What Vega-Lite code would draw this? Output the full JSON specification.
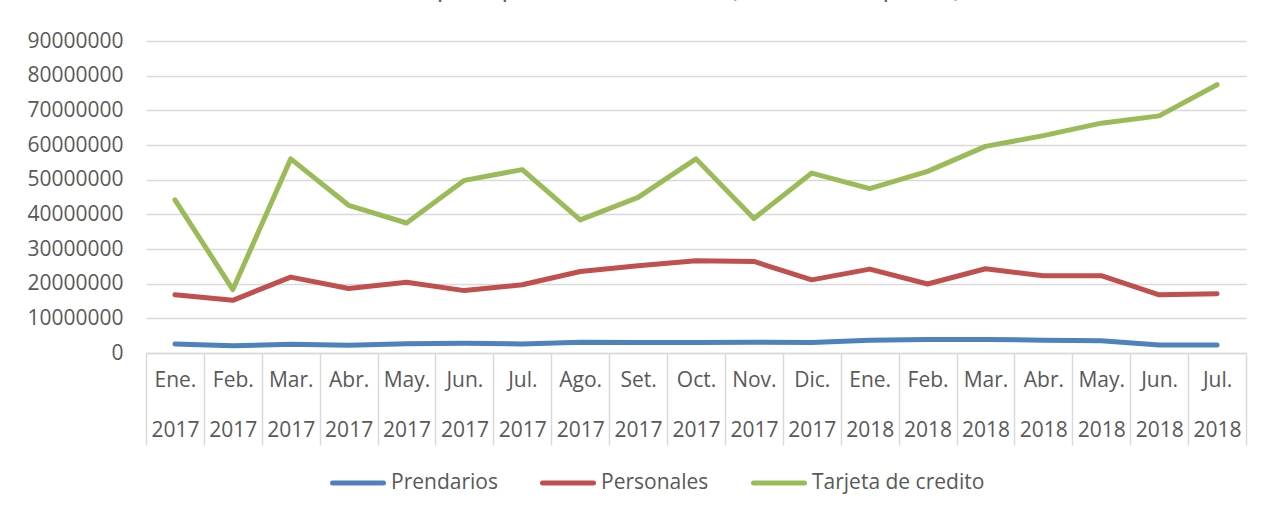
{
  "$schema": "https://vega.github.io/schema/vega-lite/v6.json",
  "width": 1100,
  "height": 312,
  "autosize": {"type": "none"},
  "padding": {"left": 146, "top": 41, "right": 16, "bottom": 159},
  "background": "white",
  "title": {
    "text": "Préstamos por tipo de financiación (en miles de pesos)",
    "font": "Open Sans",
    "fontSize": 26,
    "fontWeight": "normal",
    "color": "#595959",
    "anchor": "middle",
    "baseline": "alphabetic",
    "dx": -65,
    "offset": 8
  },
  "config": {
    "view": {"stroke": null},
    "font": "Open Sans"
  },
  "data": {
    "values": [
      {"periodo": "Ene. 2017", "serie": "Prendarios", "valor": 2600000},
      {"periodo": "Feb. 2017", "serie": "Prendarios", "valor": 2100000},
      {"periodo": "Mar. 2017", "serie": "Prendarios", "valor": 2500000},
      {"periodo": "Abr. 2017", "serie": "Prendarios", "valor": 2200000},
      {"periodo": "May. 2017", "serie": "Prendarios", "valor": 2700000},
      {"periodo": "Jun. 2017", "serie": "Prendarios", "valor": 2800000},
      {"periodo": "Jul. 2017", "serie": "Prendarios", "valor": 2600000},
      {"periodo": "Ago. 2017", "serie": "Prendarios", "valor": 3100000},
      {"periodo": "Set. 2017", "serie": "Prendarios", "valor": 3000000},
      {"periodo": "Oct. 2017", "serie": "Prendarios", "valor": 3000000},
      {"periodo": "Nov. 2017", "serie": "Prendarios", "valor": 3100000},
      {"periodo": "Dic. 2017", "serie": "Prendarios", "valor": 3000000},
      {"periodo": "Ene. 2018", "serie": "Prendarios", "valor": 3700000},
      {"periodo": "Feb. 2018", "serie": "Prendarios", "valor": 3900000},
      {"periodo": "Mar. 2018", "serie": "Prendarios", "valor": 3900000},
      {"periodo": "Abr. 2018", "serie": "Prendarios", "valor": 3700000},
      {"periodo": "May. 2018", "serie": "Prendarios", "valor": 3500000},
      {"periodo": "Jun. 2018", "serie": "Prendarios", "valor": 2300000},
      {"periodo": "Jul. 2018", "serie": "Prendarios", "valor": 2300000},
      {"periodo": "Ene. 2017", "serie": "Personales", "valor": 16800000},
      {"periodo": "Feb. 2017", "serie": "Personales", "valor": 15200000},
      {"periodo": "Mar. 2017", "serie": "Personales", "valor": 21900000},
      {"periodo": "Abr. 2017", "serie": "Personales", "valor": 18600000},
      {"periodo": "May. 2017", "serie": "Personales", "valor": 20400000},
      {"periodo": "Jun. 2017", "serie": "Personales", "valor": 18000000},
      {"periodo": "Jul. 2017", "serie": "Personales", "valor": 19700000},
      {"periodo": "Ago. 2017", "serie": "Personales", "valor": 23500000},
      {"periodo": "Set. 2017", "serie": "Personales", "valor": 25200000},
      {"periodo": "Oct. 2017", "serie": "Personales", "valor": 26600000},
      {"periodo": "Nov. 2017", "serie": "Personales", "valor": 26400000},
      {"periodo": "Dic. 2017", "serie": "Personales", "valor": 21100000},
      {"periodo": "Ene. 2018", "serie": "Personales", "valor": 24200000},
      {"periodo": "Feb. 2018", "serie": "Personales", "valor": 19900000},
      {"periodo": "Mar. 2018", "serie": "Personales", "valor": 24300000},
      {"periodo": "Abr. 2018", "serie": "Personales", "valor": 22300000},
      {"periodo": "May. 2018", "serie": "Personales", "valor": 22300000},
      {"periodo": "Jun. 2018", "serie": "Personales", "valor": 16800000},
      {"periodo": "Jul. 2018", "serie": "Personales", "valor": 17100000},
      {"periodo": "Ene. 2017", "serie": "Tarjeta de credito", "valor": 44200000},
      {"periodo": "Feb. 2017", "serie": "Tarjeta de credito", "valor": 18300000},
      {"periodo": "Mar. 2017", "serie": "Tarjeta de credito", "valor": 56000000},
      {"periodo": "Abr. 2017", "serie": "Tarjeta de credito", "valor": 42600000},
      {"periodo": "May. 2017", "serie": "Tarjeta de credito", "valor": 37500000},
      {"periodo": "Jun. 2017", "serie": "Tarjeta de credito", "valor": 49800000},
      {"periodo": "Jul. 2017", "serie": "Tarjeta de credito", "valor": 52900000},
      {"periodo": "Ago. 2017", "serie": "Tarjeta de credito", "valor": 38400000},
      {"periodo": "Set. 2017", "serie": "Tarjeta de credito", "valor": 44900000},
      {"periodo": "Oct. 2017", "serie": "Tarjeta de credito", "valor": 56000000},
      {"periodo": "Nov. 2017", "serie": "Tarjeta de credito", "valor": 38800000},
      {"periodo": "Dic. 2017", "serie": "Tarjeta de credito", "valor": 51900000},
      {"periodo": "Ene. 2018", "serie": "Tarjeta de credito", "valor": 47400000},
      {"periodo": "Feb. 2018", "serie": "Tarjeta de credito", "valor": 52400000},
      {"periodo": "Mar. 2018", "serie": "Tarjeta de credito", "valor": 59600000},
      {"periodo": "Abr. 2018", "serie": "Tarjeta de credito", "valor": 62700000},
      {"periodo": "May. 2018", "serie": "Tarjeta de credito", "valor": 66300000},
      {"periodo": "Jun. 2018", "serie": "Tarjeta de credito", "valor": 68400000},
      {"periodo": "Jul. 2018", "serie": "Tarjeta de credito", "valor": 77400000}
    ]
  },
  "mark": {"type": "line", "strokeWidth": 5, "strokeCap": "round", "strokeJoin": "round"},
  "encoding": {
    "x": {
      "field": "periodo",
      "type": "ordinal",
      "sort": null,
      "bandPosition": 0.5,
      "scale": {"type": "band", "paddingInner": 0, "paddingOuter": 0},
      "axis": {
        "title": null,
        "labelExpr": "split(datum.label, ' ')",
        "labelAngle": 0,
        "labelFont": "Open Sans",
        "labelFontSize": 21,
        "labelColor": "#595959",
        "labelLineHeight": 50,
        "labelPadding": -76,
        "labelOverlap": false,
        "labelBound": false,
        "labelFlush": false,
        "tickBand": "extent",
        "ticks": true,
        "tickSize": 92,
        "tickColor": "#d9d9d9",
        "tickWidth": 1.5,
        "domain": true,
        "domainColor": "#d9d9d9",
        "domainWidth": 1.5,
        "grid": false
      }
    },
    "y": {
      "field": "valor",
      "type": "quantitative",
      "scale": {"domain": [0, 90000000]},
      "axis": {
        "title": null,
        "values": [0, 10000000, 20000000, 30000000, 40000000, 50000000, 60000000, 70000000, 80000000, 90000000],
        "format": "d",
        "labelFont": "Open Sans",
        "labelFontSize": 21,
        "labelColor": "#595959",
        "labelPadding": 23,
        "ticks": false,
        "domain": false,
        "grid": true,
        "gridColor": "#d9d9d9",
        "gridWidth": 1.5
      }
    },
    "color": {
      "field": "serie",
      "type": "nominal",
      "scale": {
        "domain": ["Prendarios", "Personales", "Tarjeta de credito"],
        "range": ["#4f81bd", "#c0504d", "#9bbb59"]
      },
      "legend": {
        "title": null,
        "orient": "none",
        "direction": "horizontal",
        "legendX": 184,
        "legendY": 414,
        "symbolType": "stroke",
        "symbolSize": 2601,
        "symbolStrokeWidth": 5,
        "labelFont": "Open Sans",
        "labelFontSize": 21,
        "labelColor": "#595959",
        "labelOffset": 5,
        "labelLimit": 0,
        "columnPadding": 34,
        "encode": {"symbols": {"update": {"strokeCap": {"value": "round"}}}}
      }
    }
  }
}
